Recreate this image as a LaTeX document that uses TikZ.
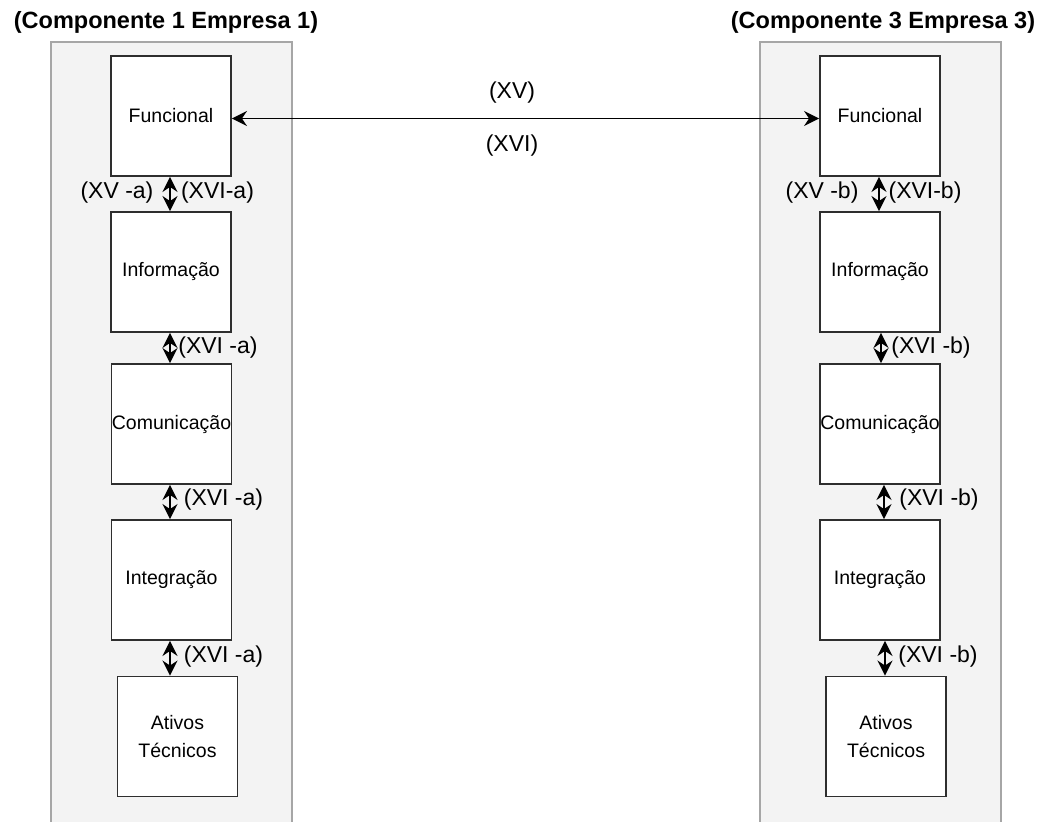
\documentclass[tikz,border=0pt]{standalone}
\usepackage{fontspec}
\setmainfont{Liberation Sans}
\usetikzlibrary{arrows.meta}
\definecolor{panelfill}{HTML}{F3F3F3}
\definecolor{panelline}{HTML}{A6A6A6}
\definecolor{boxline}{HTML}{2E2E2E}
\begin{document}
\begin{tikzpicture}[x=1pt,y=-1pt,
  panel/.style={draw=panelline, fill=panelfill, line width=1.8pt},
  layer/.style={draw=boxline, fill=white, line width=1.9pt,
    minimum width=120pt, minimum height=120pt, inner sep=0pt,
    align=center, font=\fontsize{19.5}{28}\selectfont},
  heading/.style={inner sep=0pt, font=\fontsize{23.5}{26}\selectfont\bfseries},
  tag/.style={inner sep=0pt, font=\fontsize{23}{26}\selectfont},
  link/.style={line width=1.9pt,
    {Stealth[length=15pt,width=15pt,inset=5pt]}-{Stealth[length=15pt,width=15pt,inset=5pt]}}
]
\clip (0,0) rectangle (1048,821);
\fill[white] (0,0) rectangle (1048,821);

% company panels
\draw[panel] (51,42) rectangle (292,840);
\draw[panel] (760,42) rectangle (1001,840);

\node[heading] (t1) at (166,22) {(Componente 1 Empresa 1)};
\node[heading] (t3) at (883,22) {(Componente 3 Empresa 3)};

% layers of company 1
\node[layer] (f1) at (171,116) {Funcional};
\node[layer] (i1) at (171,272) {Informação};
\node[layer] (c1) at (171.5,424) {\makebox[0pt]{Comunicação}};
\node[layer] (g1) at (171.5,580) {Integração};
\node[layer] (a1) at (177.5,736.5) {Ativos\\Técnicos};

% layers of company 3
\node[layer] (f3) at (880,116) {Funcional};
\node[layer] (i3) at (880,272) {Informação};
\node[layer] (c3) at (880,424) {\makebox[0pt]{Comunicação}};
\node[layer] (g3) at (880,580) {Integração};
\node[layer] (a3) at (886,736.5) {Ativos\\Técnicos};

% link between the two functional layers
\draw[link] ([yshift=-2.5pt]f1.east) -- ([yshift=-2.5pt]f3.west);
\node[tag] (xv) at (512,93) {(XV)};
\node[tag] (xvi) at (512,146) {(XVI)};

% vertical links, company 1
\draw[link] ([xshift=-1pt]f1.south) -- ([xshift=-1pt]i1.north);
\draw[link] ([xshift=-1pt]i1.south) -- ([xshift=-1.5pt]c1.north);
\draw[link] ([xshift=-1.5pt]c1.south) -- ([xshift=-1.5pt]g1.north);
\draw[link] ([xshift=-1.5pt]g1.south) -- ([xshift=-7.5pt]a1.north);

% vertical links, company 3
\draw[link] ([xshift=-1pt]f3.south) -- ([xshift=-1pt]i3.north);
\draw[link] ([xshift=1pt]i3.south) -- ([xshift=1pt]c3.north);
\draw[link] ([xshift=4pt]c3.south) -- ([xshift=4pt]g3.north);
\draw[link] ([xshift=5pt]g3.south) -- ([xshift=-1pt]a3.north);

% link tags, company 1
\node[tag] (l1a) at (117,193) {(XV -a)};
\node[tag] (l1b) at (217.5,193) {(XVI-a)};
\node[tag] (l1c) at (218,348) {(XVI -a)};
\node[tag] (l1d) at (223.5,500) {(XVI -a)};
\node[tag] (l1e) at (223.5,657) {(XVI -a)};

% link tags, company 3
\node[tag] (l3a) at (822,193) {(XV -b)};
\node[tag] (l3b) at (925,193) {(XVI-b)};
\node[tag] (l3c) at (931,348) {(XVI -b)};
\node[tag] (l3d) at (939,500) {(XVI -b)};
\node[tag] (l3e) at (938,657) {(XVI -b)};
\end{tikzpicture}
\end{document}
